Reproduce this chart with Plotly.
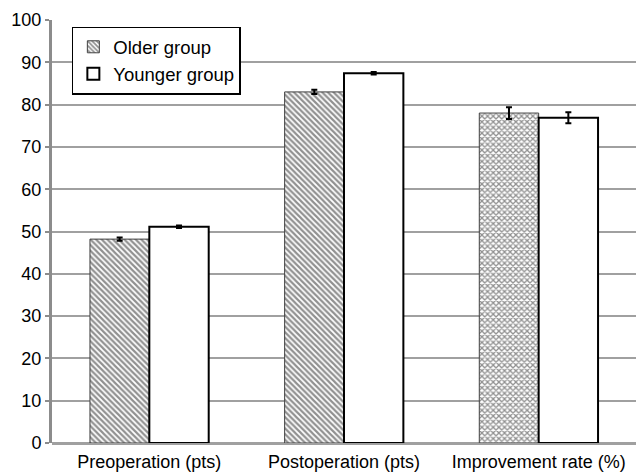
import plotly.graph_objects as go

categories = ["Preoperation (pts)", "Postoperation (pts)", "Improvement rate (%)"]
older_values = [48.2, 83.0, 78.0]
older_err = [0.4, 0.5, 1.4]
younger_values = [51.1, 87.4, 76.9]
younger_err = [0.3, 0.3, 1.3]
y_ticks = list(range(0, 101, 10))

FONT = "Liberation Sans, Arial, sans-serif"
GRID = "#a0a0a0"

fig = go.Figure()
fig.add_trace(go.Bar(
    name="Older group",
    legendgroup="older",
    x=categories,
    y=older_values,
    error_y=dict(type="data", array=older_err, visible=True, color="black", thickness=2, width=3),
    marker=dict(
        color="white",
        line=dict(color="#404040", width=1),
        pattern=dict(shape=["\\", "\\", "x"], fgcolor="#222222", bgcolor="white", size=4, solidity=0.55),
    ),
))
fig.add_trace(go.Bar(
    name="Younger group",
    legendgroup="younger",
    x=categories,
    y=younger_values,
    error_y=dict(type="data", array=younger_err, visible=True, color="black", thickness=2, width=3),
    marker=dict(color="white", line=dict(color="black", width=2)),
))

fig.update_layout(
    width=636, height=472,
    margin=dict(l=52, r=0, t=20, b=29),
    paper_bgcolor="white", plot_bgcolor="white",
    barmode="group", bargap=0.39, bargroupgap=0,
    font=dict(family=FONT, size=18, color="black"),
    showlegend=True,
    legend=dict(
        x=0.034, y=0.984, xanchor="left", yanchor="top",
        bordercolor="black", borderwidth=1.5, bgcolor="white",
        font=dict(family=FONT, size=18.5, color="black"),
        tracegroupgap=8, traceorder="normal",
    ),
    xaxis=dict(showgrid=False, showline=False, ticks="outside", ticklen=2,
               tickcolor="rgba(0,0,0,0)", tickfont=dict(size=18), automargin=False),
    yaxis=dict(
        range=[0, 100], tickvals=y_ticks, showgrid=True, gridcolor=GRID, gridwidth=2,
        zeroline=True, zerolinecolor=GRID, zerolinewidth=3,
        showline=True, linecolor="#8c8c8c", linewidth=3,
        ticks="outside", ticklen=4, tickcolor="#8c8c8c", tickwidth=2,
        tickfont=dict(size=18), automargin=False,
    ),
)

fig.write_html(
    "out.html",
    config={"displayModeBar": False},
    post_script="document.body.style.margin='0';document.body.style.overflow='hidden';",
)
